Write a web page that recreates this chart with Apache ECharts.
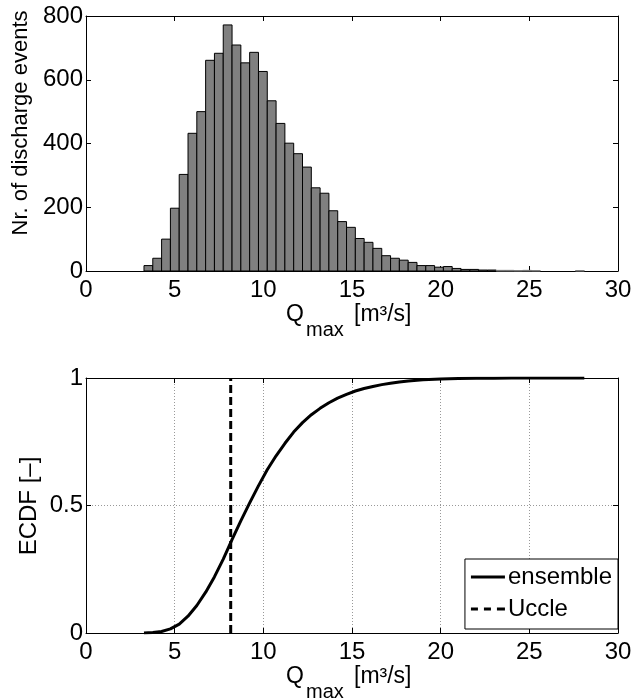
<!DOCTYPE html>
<html>
<head>
<meta charset="utf-8">
<script src="https://cdn.jsdelivr.net/npm/echarts@6/dist/echarts.min.js"></script>
<style>html,body{margin:0;padding:0;background:#fff}#c{width:635px;height:698px}</style>
</head>
<body>
<div id="c"></div>
<script>
// ---- data ----
const binStart = 3.27;        // left edge of first histogram bin [m3/s]
const binWidth = 0.4966;      // histogram bin width [m3/s]
const counts = [17, 40, 100, 197, 303, 432, 500, 661, 683, 772,
                709, 653, 686, 626, 534, 463, 401, 368, 326, 261,
                244, 189, 155, 137, 102, 90, 71, 48, 40, 34,
                27, 17, 17, 12, 14, 8, 5, 5, 3, 3,
                2, 2, 1, 2, 1, 0, 0, 0, 0, 1];
const ecdfX = [3.27, 3.77, 4.26, 4.76, 5.26, 5.75, 6.25, 6.75, 7.24, 7.74,
               8.24, 8.73, 9.23, 9.73, 10.22, 10.72, 11.22, 11.71, 12.21, 12.71,
               13.2, 13.7, 14.19, 14.69, 15.19, 15.68, 16.18, 16.68, 17.17, 17.67,
               18.17, 19, 20, 21, 22, 23, 24, 25, 26, 27, 28.1];
const ecdfY = [0, 0.002, 0.006, 0.016, 0.035, 0.066, 0.108, 0.16, 0.22, 0.29,
               0.367, 0.44, 0.51, 0.578, 0.64, 0.695, 0.744, 0.788, 0.825, 0.856,
               0.881, 0.903, 0.921, 0.936, 0.949, 0.959, 0.967, 0.974, 0.979, 0.984,
               0.988, 0.993, 0.996, 0.998, 0.999, 0.9993, 0.9996, 0.9998, 0.9999, 0.99995, 1];
const ucclePeak = 8.16;
const xTicks = [0, 5, 10, 15, 20, 25, 30];
const yTicksTop = [0, 200, 400, 600, 800];
const yTicksBottom = [0, 0.5, 1];

// ---- build ----
const FONT = '"Liberation Sans", Arial, Helvetica, sans-serif';
const histData = counts.map((c, i) => [binStart + i * binWidth, binStart + (i + 1) * binWidth, c]);
const ecdfData = ecdfX.map((x, i) => [x, ecdfY[i]]);

const chart = echarts.init(document.getElementById('c'), null, {renderer: 'canvas'});

function xAx(grid, pos, labels, split) {
  return {
    type: 'value', gridIndex: grid, position: pos,
    min: xTicks[0], max: xTicks[xTicks.length - 1], interval: xTicks[1] - xTicks[0],
    axisLine: {show: true, onZero: false, lineStyle: {color: '#000', width: 1}},
    axisTick: {show: true, inside: true, length: 5, lineStyle: {color: '#000'}},
    axisLabel: {show: labels, color: '#000', fontSize: 24, fontFamily: FONT, margin: 7},
    splitLine: {show: split, lineStyle: {color: '#999', type: [1, 2], width: 1}}
  };
}
function yAx(grid, pos, ticks, labels, split) {
  return {
    type: 'value', gridIndex: grid, position: pos,
    min: ticks[0], max: ticks[ticks.length - 1], interval: ticks[1] - ticks[0],
    axisLine: {show: true, onZero: false, lineStyle: {color: '#000', width: 1}},
    axisTick: {show: true, inside: true, length: 5, lineStyle: {color: '#000'}},
    axisLabel: {show: labels, color: '#000', fontSize: 24, fontFamily: FONT, margin: 3},
    splitLine: {show: split, lineStyle: {color: '#999', type: [1, 2], width: 1}}
  };
}

const option = {
  animation: false,
  backgroundColor: '#fff',
  textStyle: {fontFamily: FONT},
  grid: [
    {left: 86, top: 16, width: 532, height: 255},
    {left: 86, top: 378, width: 532, height: 255}
  ],
  xAxis: [
    xAx(0, 'bottom', true, false), xAx(0, 'top', false, false),
    xAx(1, 'bottom', true, true), xAx(1, 'top', false, false)
  ],
  yAxis: [
    yAx(0, 'left', yTicksTop, true, false), yAx(0, 'right', yTicksTop, false, false),
    yAx(1, 'left', yTicksBottom, true, true), yAx(1, 'right', yTicksBottom, false, false)
  ],
  legend: {
    data: [
      {name: 'ensemble', icon: 'path://M0,0H34V3H0Z'},
      {name: 'Uccle', icon: 'path://M0,0H7V3H0Z M13,0H20V3H13Z M26,0H34V3H26Z'}
    ],
    orient: 'vertical', right: 17, top: 559,
    backgroundColor: '#fff', borderColor: '#000', borderWidth: 1,
    padding: [6, 6, 8, 6], itemGap: 8, itemWidth: 34, itemHeight: 3,
    itemStyle: {borderWidth: 0},
    textStyle: {color: '#000', fontSize: 24, fontFamily: FONT, padding: [0, 0, 0, -2], lineHeight: 24}
  },
  series: [
    {
      type: 'custom', xAxisIndex: 0, yAxisIndex: 0, data: histData,
      encode: {x: [0, 1], y: 2},
      renderItem: function (params, api) {
        const v = api.value(2);
        if (!v) return null;
        const p0 = api.coord([api.value(0), 0]);
        const p1 = api.coord([api.value(1), v]);
        return {
          type: 'rect',
          shape: {x: p0[0], y: p1[1], width: p1[0] - p0[0], height: p0[1] - p1[1]},
          style: {fill: '#808080', stroke: v < 3 ? '#777' : '#000', lineWidth: 1}
        };
      }
    },
    {
      name: 'ensemble', type: 'line', xAxisIndex: 2, yAxisIndex: 2,
      data: ecdfData, symbol: 'none', smooth: false,
      lineStyle: {color: '#000', width: 3, join: 'round'}, itemStyle: {color: '#000'}
    },
    {
      name: 'Uccle', type: 'line', xAxisIndex: 2, yAxisIndex: 2,
      data: [[ucclePeak, yTicksBottom[0]], [ucclePeak, yTicksBottom[yTicksBottom.length - 1]]],
      symbol: 'none',
      lineStyle: {color: '#000', width: 3, type: [8, 4]}, itemStyle: {color: '#000'}
    }
  ],
  graphic: [
    {type: 'text', x: 21, y: 123, rotation: Math.PI / 2,
     style: {text: 'Nr. of discharge events', font: '22px ' + FONT, fill: '#000', align: 'center', verticalAlign: 'middle'}},
    {type: 'text', x: 29, y: 506, rotation: Math.PI / 2,
     style: {text: 'ECDF [\u2013]', font: '24px ' + FONT, fill: '#000', align: 'center', verticalAlign: 'middle'}},
    // top x label
    {type: 'text', x: 286, y: 315, style: {text: 'Q', font: '23px ' + FONT, fill: '#000', align: 'left', verticalAlign: 'middle'}},
    {type: 'text', x: 306, y: 330, style: {text: 'max', font: '20px ' + FONT, fill: '#000', align: 'left', verticalAlign: 'middle'}},
    {type: 'text', x: 354, y: 315, style: {text: '[m\u00b3/s]', font: '23px ' + FONT, fill: '#000', align: 'left', verticalAlign: 'middle'}},
    // bottom x label
    {type: 'text', x: 286, y: 677, style: {text: 'Q', font: '23px ' + FONT, fill: '#000', align: 'left', verticalAlign: 'middle'}},
    {type: 'text', x: 306, y: 692, style: {text: 'max', font: '20px ' + FONT, fill: '#000', align: 'left', verticalAlign: 'middle'}},
    {type: 'text', x: 354, y: 677, style: {text: '[m\u00b3/s]', font: '23px ' + FONT, fill: '#000', align: 'left', verticalAlign: 'middle'}}
  ]
};
chart.setOption(option);
</script>
</body>
</html>
